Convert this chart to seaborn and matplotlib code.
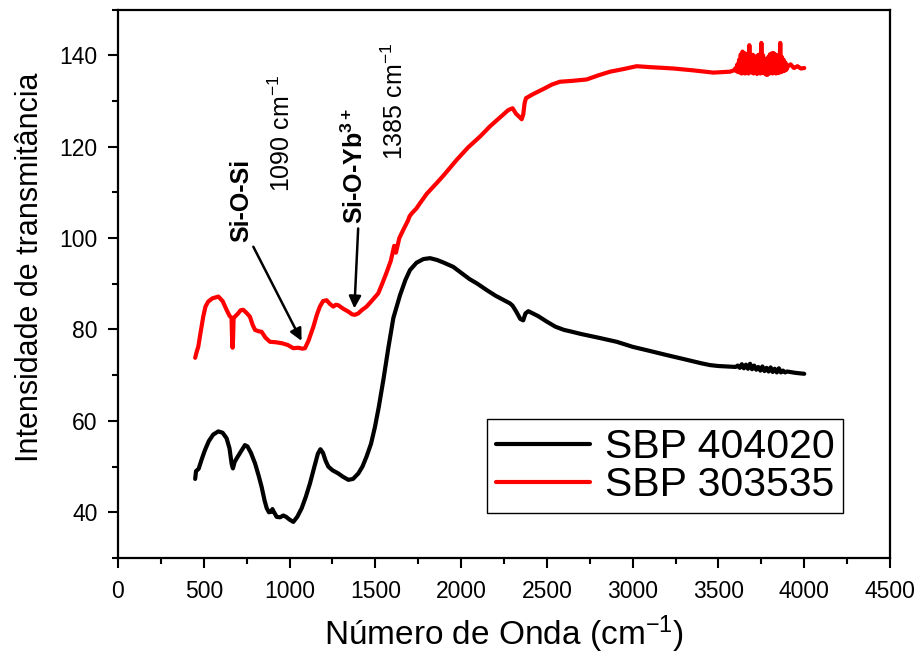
import numpy as np
import pandas as pd
import matplotlib
matplotlib.use("Agg")
import matplotlib.pyplot as plt
from matplotlib.ticker import MultipleLocator
import seaborn as sns

# FTIR transmittance spectra of two SBP glass compositions
sbp404020_wn = [450, 455, 470, 490, 507, 530, 555, 585, 610, 633, 650, 663, 670, 680, 692,
                715, 740, 755, 775, 799, 820, 837, 855, 867, 880, 893, 900, 910, 925, 945,
                964, 980, 1000, 1022, 1045, 1071, 1095, 1119, 1145, 1165, 1180, 1195, 1210,
                1226, 1250, 1284, 1310, 1343, 1370, 1401, 1425, 1449, 1475, 1498, 1520, 1547,
                1576, 1605, 1644, 1675, 1702, 1740, 1780, 1819, 1860, 1900, 1954, 2000, 2050,
                2091, 2150, 2200, 2250, 2285, 2300, 2320, 2345, 2362, 2375, 2392, 2450, 2500,
                2550, 2600, 2635, 2700, 2800, 2907, 3000, 3100, 3198, 3300, 3400, 3451, 3500,
                3550, 3600, 3612, 3624, 3636, 3648, 3660, 3672, 3684, 3696, 3708, 3720, 3732,
                3744, 3756, 3768, 3780, 3792, 3804, 3816, 3828, 3840, 3852, 3864, 3876, 3888,
                3900, 3950, 4000]
sbp404020_t = [47.3, 49.0, 49.5, 51.8, 53.6, 55.6, 57.0, 57.7, 57.4, 56.2, 54.0, 50.5, 49.6, 51.0, 51.8,
               53.2, 54.7, 54.4, 53.0, 50.7, 48.0, 45.6, 42.5, 40.9, 40.0, 40.1, 40.7, 40.0, 39.0, 38.9,
               39.3, 39.0, 38.4, 37.9, 39.0, 40.9, 43.4, 46.3, 50.0, 52.8, 53.8, 53.0, 51.3,
               50.0, 49.2, 48.5, 47.8, 47.1, 47.3, 48.5, 50.0, 52.2, 55.0, 58.7, 63.0, 69.0,
               76.0, 82.5, 87.5, 90.8, 93.0, 94.6, 95.4, 95.6, 95.2, 94.6, 93.7, 92.4, 91.0,
               90.1, 88.6, 87.4, 86.4, 85.7, 85.2, 84.0, 82.3, 82.0, 83.5, 84.0, 82.9, 81.7,
               80.6, 79.9, 79.6, 79.0, 78.2, 77.3, 76.2, 75.3, 74.4, 73.5, 72.6, 72.2, 72.0,
               71.9, 71.8, 72.1, 71.6, 72.4, 71.5, 72.3, 71.4, 72.5, 71.3, 72.1, 71.2, 71.8,
               71.0, 71.9, 70.9, 71.6, 70.8, 71.7, 70.7, 71.4, 70.6, 71.5, 70.6, 71.0, 70.6,
               70.8, 70.5, 70.3]

sbp303535_wn = [450, 458, 468, 480, 497, 510, 526, 550, 585, 610, 633, 650, 662, 665, 668,
                671, 674, 682, 700, 715, 730, 750, 769, 785, 799, 820, 837, 860, 886, 920,
                954, 990, 1022, 1050, 1075, 1090, 1110, 1139, 1160, 1177, 1195, 1216, 1235,
                1255, 1270, 1284, 1310, 1343, 1365, 1381, 1400, 1420, 1449, 1480, 1517, 1540,
                1566, 1590, 1610, 1620, 1640, 1663, 1690, 1700, 1715, 1740, 1760, 1800, 1857,
                1900, 1974, 2040, 2110, 2170, 2230, 2275, 2300, 2320, 2340, 2353, 2362, 2370,
                2378, 2420, 2479, 2530, 2576, 2650, 2732, 2800, 2868, 2950, 3023, 3100, 3237,
                3350, 3470, 3520, 3567, 3590,
                3600, 3605, 3610, 3615, 3620, 3625, 3630, 3635, 3640, 3645, 3650, 3655, 3660,
                3665, 3670, 3675, 3680, 3685, 3690, 3695, 3700, 3705, 3710, 3715, 3720, 3725,
                3730, 3735, 3740, 3745, 3750, 3755, 3760, 3765, 3770, 3775, 3780, 3785, 3790,
                3795, 3800, 3805, 3810, 3815, 3820, 3825, 3830, 3835, 3840, 3845, 3850, 3855,
                3860, 3865, 3870, 3875, 3880, 3885, 3890, 3895,
                3905, 3920, 3940, 3960, 3980, 4000]
sbp303535_t = [73.8, 75.0, 76.2, 79.0, 82.8, 85.0, 86.1, 86.8, 87.2, 86.2, 84.3, 83.0, 82.5, 78.0, 76.0,
               78.0, 82.6, 82.8, 83.5, 84.2, 84.3, 83.6, 82.8, 81.0, 79.9, 79.6, 79.5, 78.2, 77.3, 77.2,
               77.0, 76.6, 75.9, 76.0, 75.8, 75.9, 77.5, 80.6, 83.3, 85.0, 86.2, 86.4, 85.6,
               85.0, 85.4, 85.3, 84.6, 83.9, 83.3, 83.2, 83.5, 84.2, 85.0, 86.3, 87.9, 90.0,
               92.5, 95.0, 98.3, 96.8, 100.0, 101.8, 103.8, 104.8, 105.5, 106.5, 107.6, 109.7, 112.0,
               113.8, 117.1, 119.8, 122.2, 124.5, 126.5, 128.0, 128.4, 127.2, 126.5, 126.0, 127.0, 129.5,
               130.6, 131.5, 132.6, 133.6, 134.2, 134.4, 134.7, 135.6, 136.4, 137.0, 137.6, 137.4, 137.1,
               136.7, 136.2, 136.3, 136.4, 136.7,
               137.2, 136.5, 138.0, 136.3, 139.0, 136.2, 140.2, 136.0, 140.8, 136.1, 140.5, 136.0, 140.3,
               136.2, 140.0, 136.0, 142.2, 136.3, 140.0, 136.2, 140.1, 136.0, 139.8, 136.2, 139.6, 135.9,
               140.0, 136.1, 140.2, 136.0, 142.7, 136.2, 140.0, 136.1, 138.8, 135.8, 139.2, 135.7, 139.6,
               136.0, 140.2, 136.1, 140.4, 136.0, 140.5, 136.2, 140.2, 136.0, 139.9, 136.1, 140.0, 136.2,
               142.7, 136.3, 139.6, 136.5, 139.0, 136.6, 138.4, 136.8,
               137.6, 138.0, 137.2, 137.6, 137.1, 137.2]

labels = ["SBP 404020", "SBP 303535"]
colors = ["black", "red"]

df = pd.concat([
    pd.DataFrame({"wn": sbp404020_wn, "T": sbp404020_t, "amostra": labels[0]}),
    pd.DataFrame({"wn": sbp303535_wn, "T": sbp303535_t, "amostra": labels[1]}),
], ignore_index=True)

sns.set_style("ticks")
plt.rcParams["font.family"] = ["Liberation Sans", "DejaVu Sans"]
plt.rcParams["mathtext.fontset"] = "custom"
plt.rcParams["mathtext.rm"] = "Liberation Sans"
plt.rcParams["mathtext.it"] = "Liberation Sans:italic"
plt.rcParams["mathtext.bf"] = "Liberation Sans:bold"
for key in ["text.color", "axes.labelcolor", "xtick.color", "ytick.color", "axes.edgecolor"]:
    plt.rcParams[key] = "black"

fig = plt.figure(figsize=(9.23, 6.57), dpi=100)
ax = fig.add_axes([0.1278, 0.1507, 0.8365, 0.8348])

sns.lineplot(data=df, x="wn", y="T", hue="amostra", hue_order=labels,
             palette=dict(zip(labels, colors)), estimator=None, sort=False,
             linewidth=3, ax=ax)

ax.set_xlim(0, 4500)
ax.set_ylim(30, 150)
ax.xaxis.set_major_locator(MultipleLocator(500))
ax.xaxis.set_minor_locator(MultipleLocator(250))
ax.yaxis.set_minor_locator(MultipleLocator(10))
ax.set_yticks([40, 60, 80, 100, 120, 140])

for side in ["left", "bottom", "top", "right"]:
    ax.spines[side].set_visible(True)
    ax.spines[side].set_linewidth(1.6)
    ax.spines[side].set_color("black")

ax.tick_params(axis="both", which="major", direction="out", length=7.5, width=1.5,
               labelsize=16.5)
ax.tick_params(axis="both", which="minor", direction="out", length=4, width=1.5)
ax.tick_params(axis="y", which="major", pad=7)
ax.tick_params(axis="x", which="major", pad=8)
ax.tick_params(top=False, right=False, which="both")

ax.set_xlabel("Número de Onda (cm$^{-1}$)", fontsize=24, labelpad=8)
ax.set_ylabel("Intensidade de transmitância", fontsize=22)
ax.yaxis.set_label_coords(-0.094, 0.53)

# band assignments
ax.text(720, 108.3, "Si-O-Si", rotation=90, ha="center", va="center",
        fontsize=18, fontweight="bold")
ax.text(956, 123.0, "1090 cm$^{-1}$", rotation=90, ha="center", va="center", fontsize=18)
ax.text(1378, 115.8, "Si-O-Yb$^{\\mathbf{3+}}$", rotation=90, ha="center", va="center",
        fontsize=18, fontweight="bold")
ax.text(1615, 129.8, "1385 cm$^{-1}$", rotation=90, ha="center", va="center", fontsize=18)

arrow = dict(arrowstyle="-|>", color="black", lw=1.8, mutation_scale=18,
             shrinkA=0, shrinkB=0)
ax.annotate("", xy=(1070, 77.5), xytext=(789, 98.1), arrowprops=arrow)
ax.annotate("", xy=(1378, 84.6), xytext=(1400, 102.1), arrowprops=arrow)

leg = ax.legend(loc="lower left", bbox_to_anchor=(0.478, 0.082), fontsize=29.5,
                frameon=True, fancybox=False, edgecolor="black", framealpha=1,
                handlelength=2.3, handletextpad=0.35, labelspacing=0.0,
                borderpad=0.22, borderaxespad=0)
leg.get_frame().set_linewidth(1.0)
for line in leg.get_lines():
    line.set_linewidth(3)

fig.savefig("out.png", dpi=100)
